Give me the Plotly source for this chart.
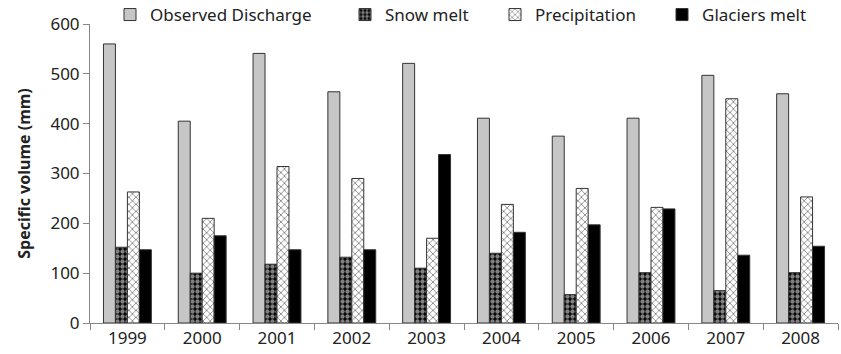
import plotly.graph_objects as go

years = ["1999", "2000", "2001", "2002", "2003", "2004", "2005", "2006", "2007", "2008"]
observed = [560, 405, 541, 464, 521, 411, 375, 411, 497, 460]
snow = [152, 100, 118, 132, 110, 140, 57, 101, 65, 101]
precip = [263, 210, 314, 290, 170, 238, 270, 232, 450, 253]
glacier = [147, 175, 147, 147, 338, 182, 197, 229, 136, 154]

fig = go.Figure()
line = dict(color="#333333", width=1)
fig.add_trace(go.Bar(name="Observed Discharge", x=years, y=observed, legend="legend",
                     showlegend=True,
                     marker=dict(color="#c6c6c6", line=line)))
fig.add_trace(go.Bar(name="Snow melt", x=years, y=snow, legend="legend2",
                     marker=dict(color="black", line=line,
                                 pattern=dict(shape=".", fgcolor="white", bgcolor="black",
                                              size=5, solidity=0.6))))
fig.add_trace(go.Bar(name="Precipitation", x=years, y=precip, legend="legend3",
                     marker=dict(color="white", line=line,
                                 pattern=dict(shape="x", fgcolor="black", bgcolor="white",
                                              size=5, solidity=0.3))))
fig.add_trace(go.Bar(name="Glaciers melt", x=years, y=glacier, legend="legend4",
                     marker=dict(color="black", line=line)))

def leg(text_start_px):
    return dict(orientation="h", xref="container", yref="container",
                x=(text_start_px - 38) / 841, y=1 - 15 / 354,
                xanchor="left", yanchor="middle", itemwidth=30,
                font=dict(size=17), bgcolor="rgba(0,0,0,0)")

fig.update_layout(
    width=841, height=354,
    margin=dict(l=90, r=3, t=24, b=31, autoexpand=False),
    paper_bgcolor="white", plot_bgcolor="white",
    barmode="group", bargap=0.36, bargroupgap=0,
    showlegend=True,
    font=dict(family="Noto Sans", size=17, color="#222222"),
    legend=leg(148), legend2=leg(383), legend3=leg(533), legend4=leg(700),
    xaxis=dict(showline=True, linecolor="#888888", ticks="outside", tickson="boundaries",
               ticklen=6, tickcolor="#888888", tickfont=dict(size=17)),
    yaxis=dict(range=[0, 600], dtick=100, showline=True, linecolor="#888888",
               ticks="outside", ticklen=6, tickcolor="#888888", showgrid=False,
               zeroline=False, tickfont=dict(size=17),
               title=dict(text="<b>Specific volume (mm)</b>", font=dict(size=16), standoff=15)),
)
fig.write_html("out.html")
